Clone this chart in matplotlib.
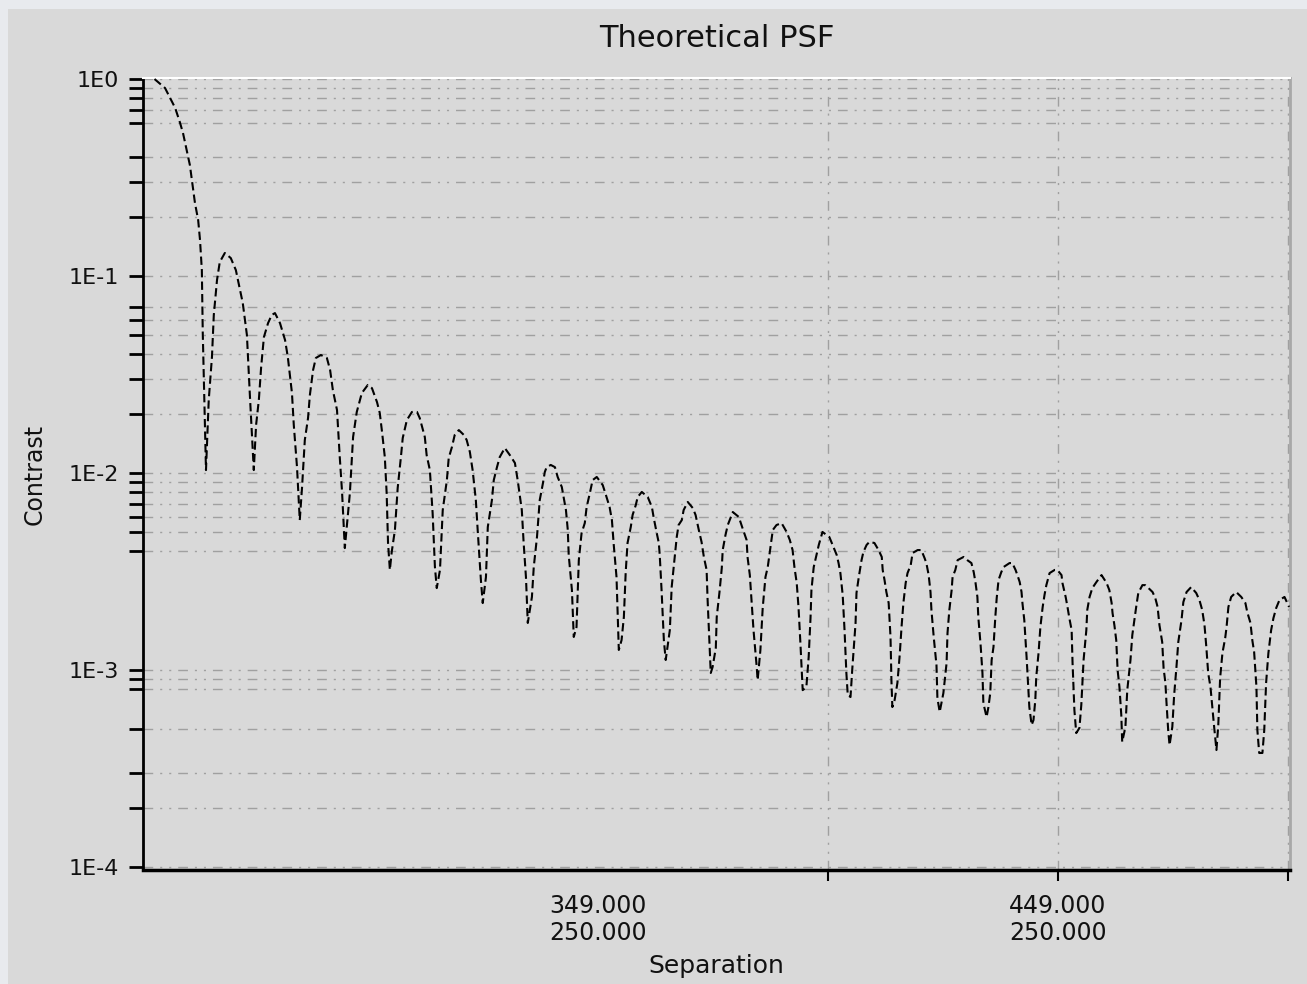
import numpy as np
import matplotlib
matplotlib.use("Agg")
import matplotlib.pyplot as plt
from matplotlib.patches import Rectangle

# Separation values and log10(contrast)
separation = [
    252.5, 254.8, 257.0, 258.0, 258.7, 260.2, 261.3, 262.0, 262.4, 262.8, 263.0,
    263.7, 264.3, 265.0, 265.4, 266.1, 266.7, 267.8, 269.1, 270.2, 271.1, 271.7, 272.6, 273.3,
    274.1, 274.6, 275.2, 275.7, 276.3, 277.2, 278.0, 278.7, 279.8, 280.9, 281.5, 282.4, 282.8, 283.5,
    284.1, 284.6, 285.2, 285.9, 286.3, 287.0, 287.6, 288.7, 290.0, 290.7, 291.3, 292.2, 292.8, 293.3,
    293.9, 295.0, 295.7, 296.5, 297.6, 298.9, 299.8, 300.9, 301.5, 302.0, 302.6, 303.0, 303.3,
    303.7, 304.1, 304.8, 305.4, 306.1, 306.5, 307.4, 308.5, 309.6, 310.2, 311.3, 311.7, 312.4, 313.0, 313.5,
    313.9, 314.6, 315.2, 316.1, 316.5, 317.2, 317.8, 318.7, 319.8, 320.4, 321.1, 321.7, 322.4, 322.8, 323.5,
    323.9, 324.6, 325.0, 325.9, 326.3, 327.0, 327.6, 328.7, 329.8, 330.9, 331.5, 332.4, 332.8, 333.3,
    333.7, 334.6, 335.0, 335.7, 336.3, 337.0, 337.4, 337.8, 338.7, 339.6, 340.2, 341.1, 342.0, 342.4, 342.6, 343.3,
    343.7, 344.3, 344.8, 345.4, 346.1, 346.5, 347.2, 347.8, 348.7, 350.0, 350.7, 351.5, 352.0, 352.4, 353.0,
    353.5, 354.1, 354.6, 355.0, 355.4, 356.1, 356.5, 357.2, 357.6, 358.5, 359.8, 360.7, 361.1, 361.7, 362.2, 362.4, 362.8, 363.3,
    363.7, 364.6, 365.0, 365.7, 366.1, 366.5, 367.2, 367.6, 368.5, 369.6, 370.2, 370.9, 371.5, 372.0, 372.6, 372.8, 373.3,
    373.5, 373.9, 374.6, 374.8, 375.4, 375.9, 376.1, 376.7, 377.2, 378.3, 379.6, 380.4, 381.3, 381.5, 382.0, 382.4, 382.8, 383.5,
    383.7, 384.3, 384.8, 385.4, 385.9, 386.5, 387.0, 387.8, 388.9, 390.0, 390.7, 391.3, 391.7, 392.2, 392.6, 393.0,
    393.5, 394.3, 394.8, 395.2, 395.4, 395.9, 396.5, 397.0, 397.8, 399.3, 400.2, 400.9, 401.3, 401.7, 402.2, 402.6, 403.0,
    403.3, 403.9, 404.3, 405.0, 405.2, 405.7, 406.3, 406.7, 407.4, 408.0, 409.1, 410.0, 410.7, 410.9, 411.3, 411.7, 412.2, 412.6, 412.8,
    413.0, 413.5, 414.1, 414.6, 415.0, 415.4, 415.9, 416.3, 417.0, 417.4, 418.5, 419.3, 420.0, 420.4, 420.9, 421.3, 421.5, 422.0, 422.6, 422.8,
    423.3, 424.1, 424.8, 425.0, 425.4, 425.9, 426.1, 426.7, 427.2, 428.5, 429.3, 430.2, 430.7, 431.1, 431.5, 431.7, 432.2, 432.6, 432.8,
    433.5, 433.9, 434.3, 434.6, 435.0, 435.4, 435.7, 436.1, 436.7, 437.2, 438.5, 439.1, 439.8, 440.2, 440.7, 441.1, 441.3, 441.7, 442.2, 442.8,
    443.3, 443.7, 444.1, 444.3, 444.8, 445.2, 445.7, 446.1, 446.5, 447.2, 448.3, 448.9, 449.8, 450.0, 450.7, 451.1, 451.5, 452.0, 452.2, 452.6,
    453.0, 453.7, 454.1, 454.6, 455.2, 455.4, 455.9, 456.5, 457.4, 458.5, 459.6, 460.2, 460.7, 460.9, 461.3, 461.7, 462.0, 462.4, 462.8,
    463.0, 463.7, 464.1, 464.8, 465.2, 465.7, 466.1, 466.5, 467.4, 468.0, 468.5, 469.6, 470.2, 470.7, 471.1, 471.7, 472.0, 472.4, 472.6, 473.0,
    473.3, 473.9, 474.3, 474.8, 475.2, 475.9, 476.3, 477.0, 478.0, 479.1, 479.8, 480.4, 480.9, 481.3, 481.7, 482.2, 482.6, 483.0,
    483.5, 483.9, 484.3, 484.8, 485.4, 485.7, 486.1, 486.7, 487.8, 488.9, 489.8, 490.2, 490.9, 491.3, 491.7, 492.2, 492.4,
    492.8, 493.5, 493.9, 494.3, 494.8, 495.4, 495.9, 496.5, 497.2, 498.3, 499.3,
]
log_contrast = [
    0.000, -0.046, -0.147, -0.218, -0.274, -0.437, -0.629, -0.716, -0.817, -0.970, -1.289,
    -1.985, -1.629, -1.411, -1.198, -1.020, -0.929, -0.883, -0.909, -0.970, -1.071, -1.137, -1.299, -1.629,
    -1.985, -1.756, -1.629, -1.462, -1.310, -1.239, -1.198, -1.188, -1.239, -1.325, -1.411, -1.594, -1.756, -1.970,
    -2.239, -2.071, -1.832, -1.721, -1.604, -1.477, -1.416, -1.401, -1.416, -1.477, -1.579, -1.680, -1.919, -2.096,
    -2.381, -2.102, -1.817, -1.690, -1.594, -1.553, -1.569, -1.640, -1.695, -1.792, -1.919, -2.102, -2.355,
    -2.492, -2.401, -2.289, -2.076, -1.919, -1.822, -1.731, -1.690, -1.690, -1.721, -1.817, -1.909, -1.985, -2.203, -2.477,
    -2.584, -2.492, -2.188, -2.036, -1.924, -1.868, -1.807, -1.782, -1.807, -1.832, -1.893, -1.985, -2.137, -2.289, -2.543,
    -2.660, -2.528, -2.274, -2.137, -2.036, -1.970, -1.919, -1.873, -1.909, -1.949, -2.036, -2.188, -2.355, -2.528,
    -2.761, -2.629, -2.477, -2.325, -2.137, -2.051, -1.995, -1.970, -1.959, -1.970, -2.020, -2.071, -2.188, -2.289, -2.416, -2.594,
    -2.832, -2.782, -2.442, -2.305, -2.254, -2.173, -2.102, -2.036, -2.020, -2.061, -2.112, -2.173, -2.239, -2.365, -2.528,
    -2.898, -2.848, -2.731, -2.503, -2.355, -2.274, -2.213, -2.162, -2.122, -2.096, -2.122, -2.173, -2.228, -2.299, -2.355, -2.416, -2.594, -2.848,
    -2.949, -2.797, -2.579, -2.416, -2.325, -2.264, -2.239, -2.188, -2.147, -2.178, -2.213, -2.289, -2.350, -2.426, -2.492, -2.635, -2.898,
    -3.015, -2.985, -2.888, -2.731, -2.604, -2.482, -2.391, -2.315, -2.264, -2.198, -2.223, -2.279, -2.340, -2.426, -2.518, -2.660, -2.797, -2.985,
    -3.051, -2.898, -2.685, -2.528, -2.477, -2.376, -2.289, -2.264, -2.254, -2.299, -2.340, -2.391, -2.477, -2.558, -2.685, -2.863,
    -3.102, -3.086, -2.934, -2.736, -2.594, -2.477, -2.416, -2.365, -2.299, -2.325, -2.376, -2.416, -2.457, -2.508, -2.619, -2.797, -3.015,
    -3.127, -3.137, -2.990, -2.761, -2.609, -2.528, -2.442, -2.401, -2.365, -2.350, -2.355, -2.391, -2.426, -2.492, -2.543, -2.604, -2.660, -2.832, -3.051,
    -3.188, -3.152, -3.066, -2.924, -2.782, -2.660, -2.558, -2.508, -2.467, -2.406, -2.391, -2.391, -2.431, -2.457, -2.518, -2.604, -2.695, -2.832, -2.975, -3.142,
    -3.213, -3.117, -2.964, -2.812, -2.695, -2.594, -2.528, -2.492, -2.442, -2.426, -2.442, -2.457, -2.503, -2.558, -2.629, -2.731, -2.873, -3.015, -3.168,
    -3.239, -3.188, -3.117, -2.949, -2.883, -2.731, -2.635, -2.543, -2.503, -2.477, -2.457, -2.457, -2.492, -2.518, -2.553, -2.604, -2.660, -2.746, -2.934, -3.188,
    -3.279, -3.254, -3.152, -3.036, -2.914, -2.782, -2.680, -2.619, -2.569, -2.508, -2.492, -2.492, -2.518, -2.558, -2.629, -2.680, -2.736, -2.797, -2.964, -3.203,
    -3.320, -3.294, -3.178, -2.949, -2.797, -2.695, -2.629, -2.584, -2.553, -2.518, -2.558, -2.594, -2.660, -2.711, -2.772, -2.848, -3.000, -3.086, -3.228,
    -3.365, -3.289, -3.102, -2.949, -2.822, -2.736, -2.670, -2.609, -2.569, -2.569, -2.579, -2.604, -2.635, -2.680, -2.772, -2.858, -2.990, -3.066, -3.152, -3.305,
    -3.381, -3.289, -3.127, -2.985, -2.858, -2.746, -2.655, -2.604, -2.579, -2.609, -2.645, -2.695, -2.772, -2.883, -3.015, -3.086, -3.188, -3.289,
    -3.406, -3.279, -3.041, -2.914, -2.838, -2.782, -2.680, -2.629, -2.604, -2.629, -2.660, -2.706, -2.761, -2.848, -2.909, -3.086, -3.305,
    -3.421, -3.421, -3.305, -3.066, -2.914, -2.797, -2.736, -2.685, -2.645, -2.629, -2.680,
]

# axis ticks as drawn by the original plotting tool
y_major = [1.0, 1e-1, 1e-2, 1e-3, 1e-4]
y_major_labels = ["1E0", "1E-1", "1E-2", "1E-3", "1E-4"]
y_minor = [0.9, 0.8, 0.7, 0.6, 0.4, 0.3, 0.2,
           0.07, 0.06, 0.05, 0.04, 0.03, 0.02,
           0.009, 0.008, 0.007, 0.006, 0.005, 0.004,
           9e-4, 8e-4, 5e-4, 3e-4, 2e-4]
x_label_pos = [349, 449]
x_labels = ["349.000\n250.000", "449.000\n250.000"]
x_tick_marks = [399, 449, 499]

W, H = 1307, 984
fig = plt.figure(figsize=(W / 100, H / 100), dpi=100)
fig.patch.set_facecolor("#e8eaee")
fig.patches.append(Rectangle((8 / W, 0), 1 - 8 / W, 1 - 9 / H, transform=fig.transFigure,
                             facecolor="#d9d9d9", edgecolor="none", zorder=-10))

ax = fig.add_axes([143 / W, (H - 870) / H, (1290 - 143) / W, (870 - 78) / H])
ax.set_facecolor("#d9d9d9")

contrast = 10 ** np.array(log_contrast)
ax.plot(separation, contrast, color="black", lw=1.5, linestyle=(0, (4, 2)),
        solid_joinstyle="miter", zorder=3)

ax.set_yscale("log")
ax.set_ylim(9.66e-5, 1.012)
ax.set_xlim(250, 499.5)

ax.set_yticks(y_major)
ax.set_yticklabels(y_major_labels)
ax.set_yticks(y_minor, minor=True)
ax.yaxis.set_minor_formatter(plt.NullFormatter())
ax.tick_params(axis="y", which="both", length=10, width=2, color="black",
               labelsize=16, pad=7, labelcolor="#111111")

ax.xaxis.remove_overlapping_locs = False
ax.set_xticks(x_label_pos)
ax.set_xticklabels(x_labels)
ax.set_xticks(x_tick_marks, minor=True)
ax.tick_params(axis="x", which="major", length=0, labelsize=17, pad=17, labelcolor="#111111")
ax.tick_params(axis="x", which="minor", length=8, width=1.5, color="black")

grid_style = dict(color="#a0a0a0", lw=1.0, linestyle=(0, (7, 5, 1.5, 5, 1.5, 5)))
ax.grid(False, which="major", axis="x")
ax.grid(True, which="minor", axis="x", **grid_style)
ax.grid(True, which="both", axis="y", **grid_style)
ax.set_axisbelow(True)

ax.spines["left"].set_color("black")
ax.spines["left"].set_linewidth(2.0)
ax.spines["bottom"].set_color("black")
ax.spines["bottom"].set_linewidth(2.5)
ax.spines["top"].set_color("white")
ax.spines["top"].set_linewidth(1.5)
ax.spines["right"].set_color("#a8a8a8")
ax.spines["right"].set_linewidth(2.0)

ax.set_title("Theoretical PSF", fontsize=22, color="#111111", pad=22)
ax.set_xlabel("Separation", fontsize=18, color="#111111")
ax.set_ylabel("Contrast", fontsize=17, color="#111111")
ax.xaxis.set_label_coords(0.5, -0.106)
ax.yaxis.set_label_coords(-0.084, 0.5)

fig.savefig("out.png", dpi=100, facecolor=fig.get_facecolor())
